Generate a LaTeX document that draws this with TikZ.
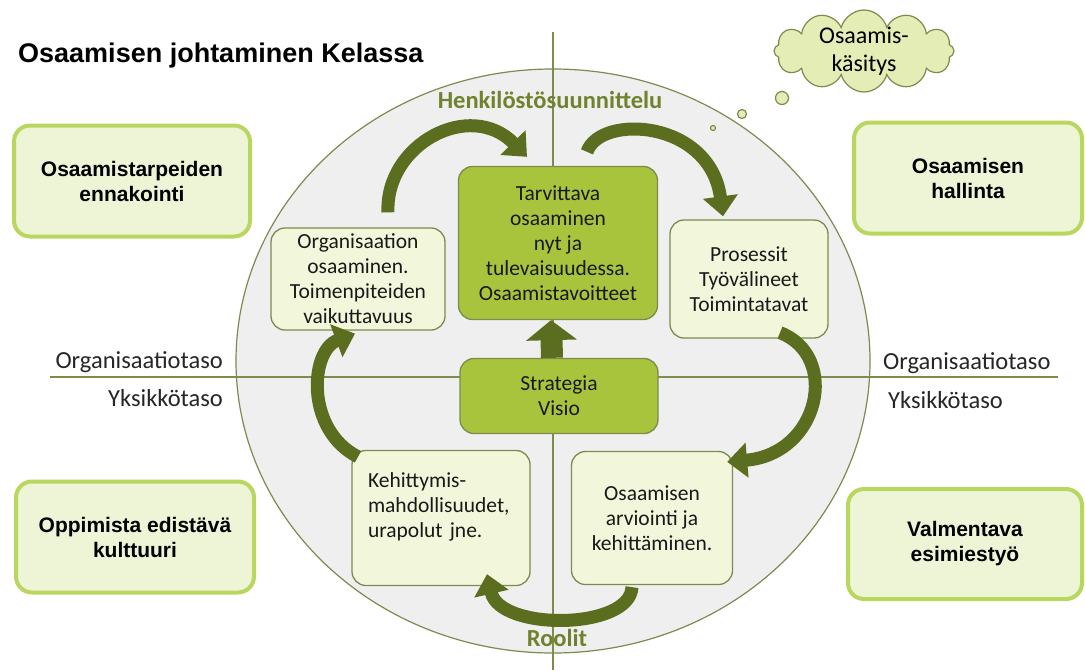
\documentclass[tikz,border=0pt]{standalone}
\usepackage{fontspec}
\setmainfont{Carlito}
\newfontfamily\headfont{Liberation Sans}
\usetikzlibrary{arrows.meta,shapes.symbols,calc}

\definecolor{circlegrey}{HTML}{EFEFF0}
\definecolor{olivedark}{HTML}{5B6E1F}
\definecolor{oliveline}{HTML}{7C8B4E}
\definecolor{boxgreen}{HTML}{A8C43C}
\definecolor{boxlight}{HTML}{F2F7DC}
\definecolor{outergreen}{HTML}{B9D65E}
\definecolor{outerfill}{HTML}{EEF4D6}
\definecolor{cloudfill}{HTML}{E3EDB5}
\definecolor{labelolive}{HTML}{6F822E}

\tikzset{
  cornerbox/.style={draw=outergreen, fill=outerfill, line width=4pt, rounded corners=16pt,
    align=center, font=\headfont\bfseries\fontsize{21pt}{25pt}\selectfont},
  innerbox/.style={draw=oliveline, fill=boxlight, line width=1.3pt, rounded corners=14pt,
    align=center, text=black!90, font=\fontsize{21.5pt}{25pt}\selectfont},
  keybox/.style={innerbox, fill=boxgreen},
  levellabel/.style={inner sep=0pt, text=black!85, font=\fontsize{24.5pt}{28pt}\selectfont},
  circlelabel/.style={text=labelolive, font=\bfseries\fontsize{24.5pt}{28pt}\selectfont},
  cyclearrow/.style={line width=13pt, draw=olivedark, -{Triangle[width=34pt,length=20pt]}},
  bubble/.style={draw=oliveline, fill=cloudfill, line width=1.2pt}
}

\begin{document}
\begin{tikzpicture}[x=1pt, y=-1pt]

    % Page size and white background
    \fill[white] (0,0) rectangle (1085,670);
    \useasboundingbox (0,0) rectangle (1085,670);

    % Title
    \node[anchor=base west, inner sep=0pt, font=\headfont\bfseries\fontsize{27pt}{30pt}\selectfont]
      (title) at (18,62) {Osaamisen johtaminen Kelassa};

    % Draw the big circle and the two axes
    \draw[oliveline, line width=1.2pt, fill=circlegrey] (553,361) ellipse (317 and 292);
    \coordinate (top) at (553,32);
    \coordinate (bottom) at (553,670);
    \coordinate (left) at (50,377);
    \coordinate (right) at (1058,377);
    \draw[oliveline, line width=1.5pt] (top) -- (bottom);
    \draw[oliveline, line width=1.5pt] (left) -- (right);

    % Level labels on both sides
    \node[levellabel, anchor=east] (orgL) at (223,362) {Organisaatiotaso};
    \node[levellabel, anchor=east] (unitL) at (223,398) {Yksikkötaso};
    \node[levellabel, anchor=west] (orgR) at (883,363) {Organisaatiotaso};
    \node[levellabel, anchor=west] (unitR) at (888,400) {Yksikkötaso};

    % Labels on the circle
    \node[circlelabel] (plan) at (550,100) {Henkilöstösuunnittelu};
    \node[circlelabel] (roles) at (557,638) {Roolit};

    % Corner boxes
    \node[cornerbox, minimum width=236pt, minimum height=111pt] (need) at (132,181) {Osaamistarpeiden\\ennakointi};
    \node[cornerbox, minimum width=228pt, minimum height=111pt] (manage) at (968,178) {Osaamisen\\hallinta};
    \node[cornerbox, minimum width=238pt, minimum height=111pt] (culture) at (135,537) {Oppimista edistävä\\kulttuuri};
    \node[cornerbox, minimum width=234pt, minimum height=110pt] (coach) at (965,544) {Valmentava\\esimiestyö};

    % Thought cloud and its bubbles
    \node[cloud, cloud puffs=12, cloud ignores aspect, draw=oliveline, fill=cloudfill, line width=1.2pt,
      minimum width=180pt, minimum height=82pt, inner xsep=0pt, inner ysep=-10pt, align=center,
      font=\fontsize{24pt}{28pt}\selectfont] (cloud) at (864,51) {Osaamis-\\käsitys};
    \draw[bubble] (782,98) circle (6.5);
    \draw[bubble] (742,114) circle (4.5);
    \draw[bubble] (713,128) circle (2.5);

    % Boxes inside the circle
    \node[innerbox, minimum width=174pt, minimum height=102pt] (org) at (358,279)
      {Organisaation\\osaaminen.\\Toimenpiteiden\\vaikuttavuus};
    \node[keybox, minimum width=199pt, minimum height=153pt] (tarv) at (558,243)
      {Tarvittava\\osaaminen\\nyt ja\\tulevaisuudessa.\\Osaamistavoitteet};
    \node[innerbox, minimum width=158pt, minimum height=118pt] (pros) at (749,279)
      {Prosessit\\Työvälineet\\Toimintatavat};
    \node[keybox, minimum width=198pt, minimum height=75pt] (strat) at (559,396)
      {Strategia\\Visio};
    \node[innerbox, minimum width=178pt, minimum height=135pt, text width=146pt, align=left] (keh) at (441,518)
      {Kehittymis-\\mahdollisuudet,\\urapolut jne.\\\mbox{}};
    \node[innerbox, minimum width=161pt, minimum height=133pt] (arv) at (652,518)
      {Osaamisen\\arviointi ja\\kehittäminen.};

    % Draw the cycle arrows
    \draw[cyclearrow] ($(org.north)+(30,-15)$) .. controls +(-3,-68) and +(-57,-58) .. ($(tarv.north)+(-31,-9)$);
    \draw[cyclearrow] ($(tarv.north)+(29,-14)$) .. controls +(13,-38) and +(-13,-97) .. ($(pros.north)+(-26,-3)$);
    \draw[cyclearrow] ($(pros.south)+(31,-6)$) .. controls +(60,23) and +(93,-8) .. ($(arv.north east)+(-6,11)$);
    \draw[cyclearrow] ($(arv.south)+(-20,2)$) .. controls +(-2,43) and +(13,57) .. ($(keh.south)+(46,-12)$);
    \draw[cyclearrow] ($(keh.north)+(-83,7)$) .. controls +(-53,-27) and +(-45,17) .. ($(org.south)+(-3,3)$);

    % Strategy feeds the needed competence
    \draw[line width=22pt, olivedark, -{Triangle[width=50pt,length=20pt]}]
      ([xshift=-7pt]strat.north) -- ([xshift=-7pt]tarv.south);

\end{tikzpicture}
\end{document}
